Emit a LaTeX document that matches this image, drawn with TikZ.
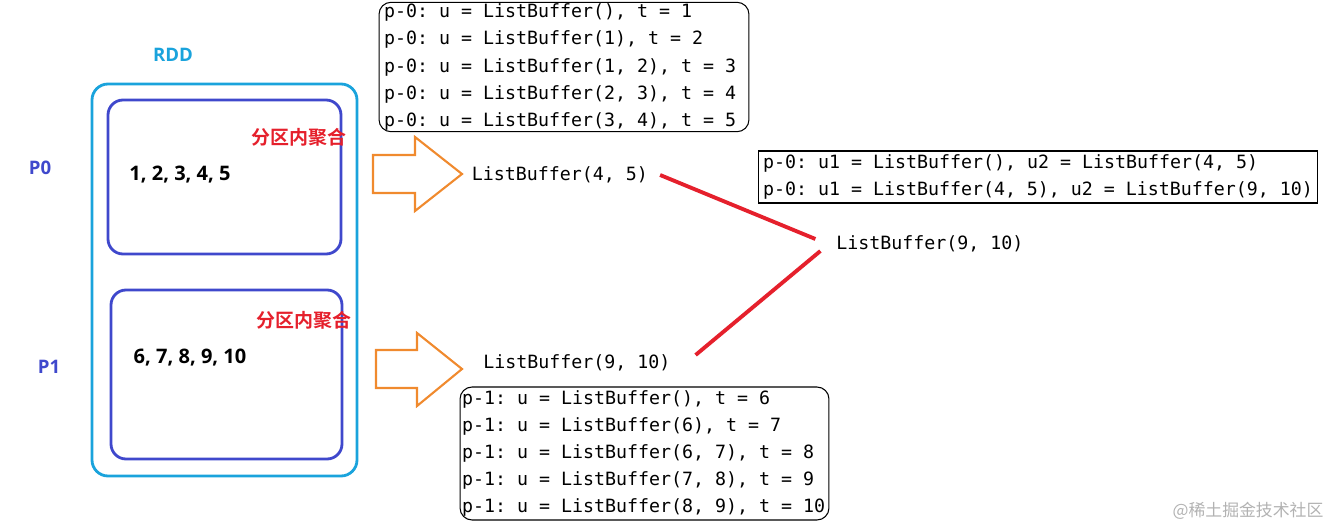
\documentclass[tikz,border=0pt]{standalone}
\usepackage{fontspec}
\usepackage{xcolor}
\usepackage{tikz}
\usetikzlibrary{arrows.meta, positioning, calc}
\setmainfont{Open Sans}
\newfontfamily\codefont{DejaVu Sans Mono}
\newfontfamily\cjkfont{Noto Sans CJK SC}
\newfontfamily\cjkbold{Noto Sans CJK SC Bold}

\definecolor{rddcyan}{HTML}{1AA3DC}
\definecolor{partblue}{HTML}{3F48CC}
\definecolor{aggred}{HTML}{E5202C}
\definecolor{arroworange}{HTML}{F08A2E}

\tikzset{
  part/.style={draw=partblue, line width=1.6pt, rounded corners=0.3cm},
  agg/.style={text=aggred, font=\cjkbold\fontsize{10.8}{12}\selectfont},
  data/.style={font=\bfseries\fontsize{11.4}{13}\selectfont},
  plabel/.style={text=partblue, font=\bfseries\fontsize{10.6}{12}\selectfont},
  code/.style={font=\codefont\fontsize{10.4}{15.4}\selectfont\frenchspacing, inner sep=1pt},
  codebox/.style={code, draw, line width=0.6pt, align=flush left, inner xsep=0.1cm},
  redline/.style={draw=aggred, line width=2.2pt},
  bigarrow/.style={draw=arroworange, line width=1.2pt, line join=miter},
}

\begin{document}
\begin{tikzpicture}[x=0.02cm, y=-0.02cm]
  \useasboundingbox (0,0) rectangle (1333,527);

  % RDD and its partitions
  \node[text=rddcyan, font=\bfseries\fontsize{10.6}{12}\selectfont] (rdd) at (173,55) {RDD};
  \draw[draw=rddcyan, line width=1.6pt, rounded corners=0.32cm] (92,84) rectangle (357,476);
  \draw[part] (108,100) rectangle (341,254);
  \draw[part] (111,290) rectangle (342,459);

  \node[plabel] (p0) at (40,168) {P0};
  \node[plabel] (p1) at (49,367) {P1};

  \node[data] (d0) at (180,175) {1, 2, 3, 4, 5};
  \node[data] (d1) at (190,358) {6, 7, 8, 9, 10};

  \node[agg] (agg0) at (299,137) {分区内聚合};
  \node[agg] (agg1) at (304,320) {分区内聚合};

  % block arrows
  \draw[bigarrow] (373,155) -- (415,155) -- (415,137) -- (462,174) -- (415,211)
    -- (415,193) -- (373,193) -- cycle;
  \draw[bigarrow] (376,350) -- (417,350) -- (417,333) -- (462,369) -- (417,406)
    -- (417,388) -- (376,388) -- cycle;

  % partition results
  \node[code] (lb0) at (560,175) {ListBuffer(4, 5)};
  \node[code] (lb1) at (577,363) {ListBuffer(9, 10)};
  \node[code] (res) at (930,244) {ListBuffer(9, 10)};

  \node[codebox, rounded corners=0.24cm, minimum height=2.56cm, text width=7.2cm] (log0) at (564,67)
    {p-0: u = ListBuffer(), t = 1\\
     p-0: u = ListBuffer(1), t = 2\\
     p-0: u = ListBuffer(1, 2), t = 3\\
     p-0: u = ListBuffer(2, 3), t = 4\\
     p-0: u = ListBuffer(3, 4), t = 5};
  \node[codebox, rounded corners=0.24cm, minimum height=2.66cm, text width=7.3cm, inner xsep=0.04cm] (log1) at (644.5,453.5)
    {p-1: u = ListBuffer(), t = 6\\
     p-1: u = ListBuffer(6), t = 7\\
     p-1: u = ListBuffer(6, 7), t = 8\\
     p-1: u = ListBuffer(7, 8), t = 9\\
     p-1: u = ListBuffer(8, 9), t = 10};
  \node[codebox, minimum height=1.04cm, text width=11.0cm, inner xsep=0.1cm] (merge) at (1038,177)
    {p-0: u1 = ListBuffer(), u2 = ListBuffer(4, 5)\\
     p-0: u1 = ListBuffer(4, 5), u2 = ListBuffer(9, 10)};

  % merging
  \draw[redline] ([xshift=0.2cm]lb0.east) -- ([xshift=-0.38cm,yshift=0.1cm]res.west);
  \draw[redline] ([xshift=0.46cm,yshift=0.16cm]lb1.east) -- ([xshift=-0.28cm,yshift=-0.14cm]res.west);

  \node[text=black!30, font=\cjkfont\fontsize{9.6}{11}\selectfont] (mark) at (1248,511) {@稀土掘金技术社区};
\end{tikzpicture}
\end{document}
